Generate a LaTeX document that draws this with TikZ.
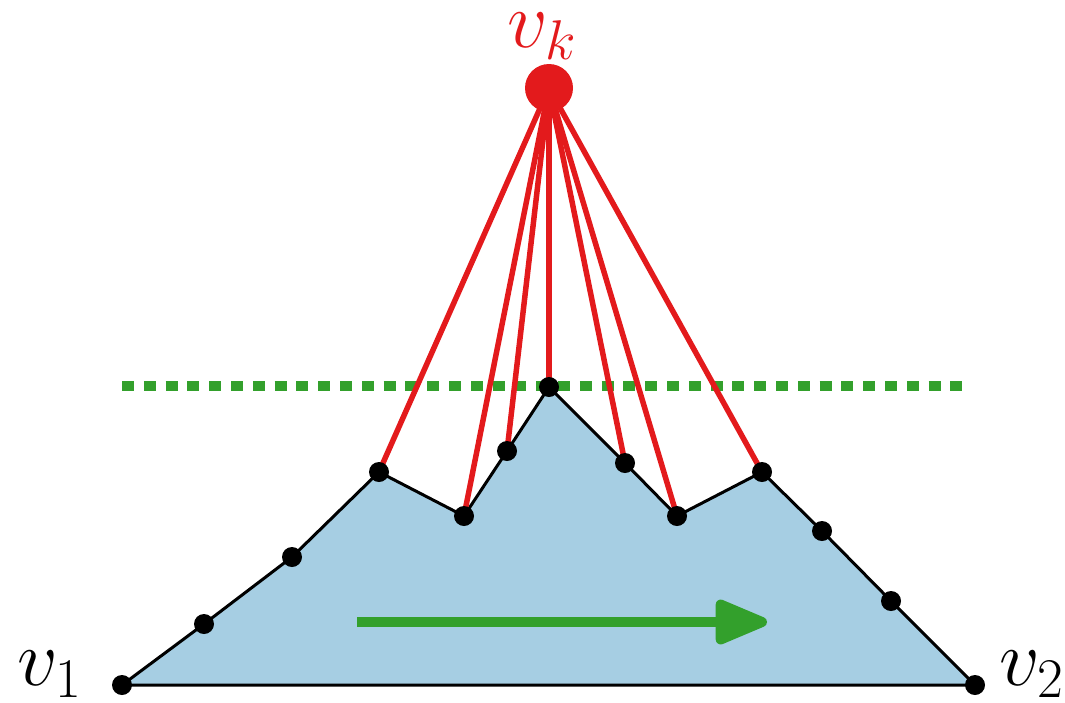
\RequirePackage{fix-cm}
\documentclass[tikz,border=0pt]{standalone}
\usetikzlibrary{arrows.meta}
\definecolor{cred}{HTML}{E31A1C}
\definecolor{cblue}{HTML}{A6CEE3}
\definecolor{cgreen}{HTML}{33A02C}
\begin{document}
\begin{tikzpicture}[x=1pt,y=-1pt,
  dot/.style={circle,fill=black,inner sep=0pt,minimum size=20pt},
  edge/.style={black,line width=3pt,line join=round},
  spoke/.style={cred,line width=5.5pt},
  lab/.style={anchor=base,font=\fontsize{80}{90}\selectfont,inner sep=0pt}]
\useasboundingbox (0,0) rectangle (1065,702);
% green dotted line
\coordinate (g1) at (122,386);
\coordinate (g2) at (968,386);
\draw[cgreen,line width=10pt,dash pattern=on 12pt off 9.8pt] (g1) -- (g2);
% points
\coordinate (p0) at (122,685);
\coordinate (p1) at (204,624);
\coordinate (p2) at (292,557);
\coordinate (p3) at (379,472);
\coordinate (p4) at (464,516);
\coordinate (p5) at (507,451);
\coordinate (p6) at (549,387);
\coordinate (p7) at (625,463);
\coordinate (p8) at (677,516);
\coordinate (p9) at (762,472);
\coordinate (p10) at (822,531);
\coordinate (p11) at (891,601);
\coordinate (p12) at (975,685);
\fill[cblue] (p0) -- (p1) -- (p2) -- (p3) -- (p4) -- (p5) -- (p6) -- (p7) -- (p8) -- (p9) -- (p10) -- (p11) -- (p12) -- cycle;
\draw[edge] (p0) -- (p1) -- (p2) -- (p3) -- (p4) -- (p5) -- (p6) -- (p7) -- (p8) -- (p9) -- (p10) -- (p11) -- (p12) -- cycle;
% green arrow
\coordinate (a1) at (357,622);
\coordinate (a2) at (767,622);
\draw[cgreen,line width=10pt,-{Triangle[round,length=60pt,width=47pt]}] (a1) -- (a2);
% vk
\coordinate (vk) at (549,88);
\foreach \i in {3,4,5,6,7,8,9} \draw[spoke] (vk) -- (p\i);
\fill[cred] (vk) circle (24pt);
\foreach \i in {0,...,12} \node[dot] (d\i) at (p\i) {};
% labels
\node[lab,text=cred] (lk) at (542,47) {$v_k$};
\node[lab] (l1) at (50,685) {$v_1$};
\node[lab] (l2) at (1032,685) {$v_2$};
\end{tikzpicture}
\end{document}
